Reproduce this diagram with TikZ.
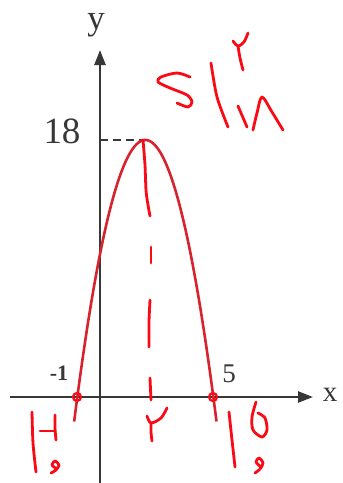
\documentclass[tikz,border=0pt]{standalone}
\usepackage{fontspec}
\setmainfont{Liberation Serif}
\usetikzlibrary{arrows.meta}

\definecolor{axisgray}{RGB}{55,55,55}
\definecolor{curvered}{RGB}{215,35,45}
\definecolor{penred}{RGB}{250,10,20}

\tikzset{
    axis/.style={draw=axisgray, line width=1.2pt},
    pen/.style={penred, line width=1.4pt, line cap=round, line join=round},
    lab/.style={text=axisgray, inner sep=0pt}
}

\begin{document}
\begin{tikzpicture}[x=0.5pt, y=-0.5pt, >={Triangle[length=7.5pt, width=5.5pt]}]

    \useasboundingbox (0,0) rectangle (343,483);

    % Axes
    \coordinate (O) at (100,397);
    \coordinate (xstart) at (10,397);
    \coordinate (xend) at (313,397);
    \coordinate (ystart) at (100,483);
    \coordinate (yend) at (100,50);
    \draw[axis, ->] (xstart) -- (xend);
    \draw[axis, ->] (ystart) -- (yend);

    % Axis labels
    \node[lab, font=\fontsize{14.5}{16}\selectfont] (xlab) at (330,395) {x};
    \node[lab, font=\fontsize{17.5}{19}\selectfont] (ylab) at (96,25) {y};
    \node[lab, font=\fontsize{18.5}{20}\selectfont] (top) at (62,131) {18};
    \node[lab, font=\bfseries\fontsize{11}{13}\selectfont] (left) at (59,373) {-1};
    \node[lab, font=\fontsize{13.5}{15}\selectfont] (right) at (229,374) {5};

    % Vertex and dashed guide
    \coordinate (V) at (145,140);
    \coordinate (Vy) at (100,140);
    \draw[axisgray, line width=1pt, dash pattern=on 4pt off 2.5pt] (Vy) -- (V);

    % Parabola y = -2(x+1)(x-5)
    \draw[curvered, line width=1.3pt] plot[domain=-1.14:5.14, samples=90]
        ({100+22.67*\x}, {397+28.56*(\x+1)*(\x-5)});

    % Roots marked by hand
    \draw[pen, line width=1.1pt] (77,397) circle (4);
    \draw[pen, line width=1.1pt] (213,397) circle (4);

    % Hand drawn axis of symmetry
    \draw[pen] plot[smooth] coordinates {(143,140) (145,165) (146,190) (148,205) (150,216)};
    \draw[pen] (151,247) -- (151,263);
    \draw[pen] plot[smooth] coordinates {(150,300) (149,322) (149,347)};
    \draw[pen] (150,378) -- (151,400);

    % Hand written numbers under the vertex
    \draw[pen] plot[smooth] coordinates {(147,416) (151,423) (161,418) (167,408)};
    \draw[pen] plot[smooth] coordinates {(151,423) (151,432) (152,441)};

    % Hand written vertex pair
    \draw[pen] plot[smooth] coordinates {(190,77) (177,73) (161,77) (158,82) (170,88) (187,95) (192,102) (188,107) (177,103)};
    \draw[pen] plot[smooth] coordinates {(211,63) (217,97) (228,127)};
    \draw[pen] plot[smooth] coordinates {(233,41) (238,46) (244,42) (248,33)};
    \draw[pen] plot[smooth] coordinates {(238,46) (240,58) (243,70)};
    \draw[pen] (238,106) -- (247,127);
    \draw[pen] plot[smooth] coordinates {(253,130) (257,113) (262,97) (272,112) (283,130)};

    % Hand written left root
    \draw[pen] plot[smooth] coordinates {(32,412) (33,443) (36,472)};
    \draw[pen] (40,431) -- (55,431);
    \draw[pen] plot[smooth] coordinates {(55,415) (55,428) (56,440)};
    \draw[pen] plot[smooth] coordinates {(51,473) (56,470) (59,465) (55,461) (52,465) (57,469)};

    % Hand written right root
    \draw[pen] plot[smooth] coordinates {(229,412) (232,440) (235,467)};
    \draw[pen] plot[smooth] coordinates {(256,402) (252,417) (253,430) (262,437) (267,430) (265,418) (258,413)};
    \draw[pen] plot[smooth] coordinates {(255,473) (260,469) (263,463) (259,458) (256,462) (261,467)};

\end{tikzpicture}
\end{document}
